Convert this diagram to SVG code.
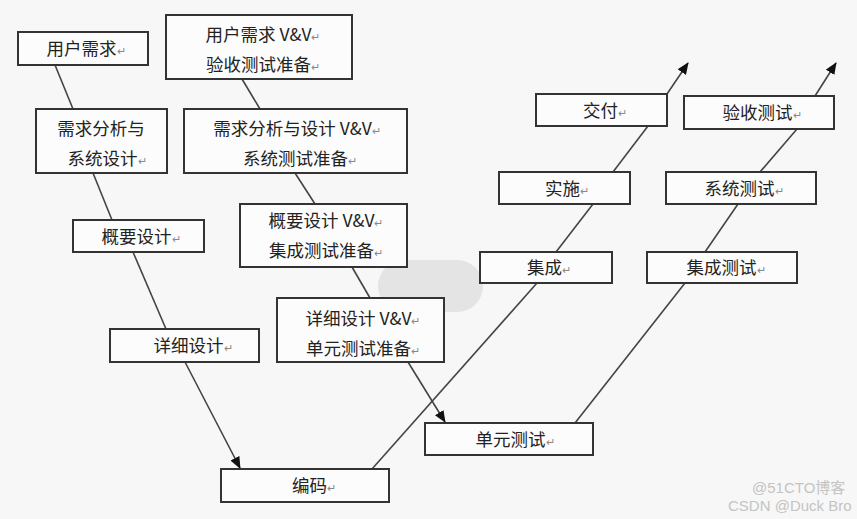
<svg xmlns="http://www.w3.org/2000/svg" width="857" height="519" viewBox="0 0 857 519">
<style>
.bx{fill:#fcfcfc;stroke:#333;stroke-width:2}
.t{font-family:"Noto Sans CJK SC","Noto Sans",sans-serif;font-size:17.5px;fill:#222;text-anchor:middle}
.r{font-size:11px;fill:#888}
.ln{stroke:#444;stroke-width:1.6;fill:none}
.wm{font-family:"Liberation Sans","Noto Sans CJK SC",sans-serif;font-size:15px;fill:#c4c4c4}
</style>
<defs>
<marker id="ah" viewBox="0 0 12 10" refX="11" refY="5" markerWidth="12" markerHeight="10" markerUnits="userSpaceOnUse" orient="auto">
<path d="M0,0 L12,5 L0,10 z" fill="#111"/>
</marker>
</defs>
<rect width="857" height="519" fill="#f7f7f7"/>
<rect x="378" y="260" width="105" height="52" rx="26" fill="#e4e4e4"/>
<g id="connectors">
<line class="ln" x1="55" y1="65" x2="73" y2="109"/>
<line class="ln" x1="93" y1="173" x2="112" y2="220"/>
<line class="ln" x1="133" y1="252" x2="166" y2="329"/>
<line class="ln" x1="185" y1="362" x2="240" y2="468" marker-end="url(#ah)"/>
<line class="ln" x1="242" y1="79" x2="260" y2="109"/>
<line class="ln" x1="295" y1="173" x2="315" y2="204"/>
<line class="ln" x1="352" y1="267" x2="370" y2="298"/>
<line class="ln" x1="408" y1="362" x2="445" y2="422" marker-end="url(#ah)"/>
<line class="ln" x1="372" y1="469" x2="537" y2="283"/>
<line class="ln" x1="556" y1="252" x2="593" y2="204"/>
<line class="ln" x1="613" y1="172" x2="648" y2="126"/>
<line class="ln" x1="667" y1="94" x2="688" y2="63" marker-end="url(#ah)"/>
<line class="ln" x1="575" y1="423" x2="685" y2="283"/>
<line class="ln" x1="705" y1="252" x2="738" y2="204"/>
<line class="ln" x1="760" y1="172" x2="797" y2="129"/>
<line class="ln" x1="815" y1="96" x2="836" y2="63" marker-end="url(#ah)"/>
</g>
<g id="n-user-req"><rect class="bx" x="18" y="32" width="130" height="33"/><text class="t" x="86" y="55">用户需求<tspan class="r">↵</tspan></text></g>
<g id="n-req-analysis"><rect class="bx" x="36" y="109" width="131" height="64"/><text class="t" x="101" y="135">需求分析与</text><text class="t" x="107" y="165">系统设计<tspan class="r">↵</tspan></text></g>
<g id="n-outline"><rect class="bx" x="73" y="220" width="131" height="32"/><text class="t" x="141" y="243">概要设计<tspan class="r">↵</tspan></text></g>
<g id="n-detail"><rect class="bx" x="110" y="329" width="149" height="33"/><text class="t" x="193" y="352">详细设计<tspan class="r">↵</tspan></text></g>
<g id="n-code"><rect class="bx" x="221" y="469" width="168" height="33"/><text class="t" x="314" y="492">编码<tspan class="r">↵</tspan></text></g>
<g id="n-vv-acc"><rect class="bx" x="166" y="15" width="186" height="64"/><text class="t" x="263" y="41">用户需求 V&amp;V<tspan class="r">↵</tspan></text><text class="t" x="263" y="71">验收测试准备<tspan class="r">↵</tspan></text></g>
<g id="n-vv-sys"><rect class="bx" x="184" y="109" width="223" height="64"/><text class="t" x="297" y="135">需求分析与设计 V&amp;V<tspan class="r">↵</tspan></text><text class="t" x="300" y="165">系统测试准备<tspan class="r">↵</tspan></text></g>
<g id="n-vv-int"><rect class="bx" x="240" y="204" width="167" height="63"/><text class="t" x="326" y="227">概要设计 V&amp;V<tspan class="r">↵</tspan></text><text class="t" x="326" y="257">集成测试准备<tspan class="r">↵</tspan></text></g>
<g id="n-vv-unit"><rect class="bx" x="277" y="298" width="167" height="64"/><text class="t" x="363" y="325">详细设计 V&amp;V<tspan class="r">↵</tspan></text><text class="t" x="363" y="355">单元测试准备<tspan class="r">↵</tspan></text></g>
<g id="n-unit-test"><rect class="bx" x="425" y="423" width="168" height="32"/><text class="t" x="515" y="446">单元测试<tspan class="r">↵</tspan></text></g>
<g id="n-integrate"><rect class="bx" x="480" y="252" width="132" height="31"/><text class="t" x="549" y="274">集成<tspan class="r">↵</tspan></text></g>
<g id="n-int-test"><rect class="bx" x="647" y="252" width="150" height="31"/><text class="t" x="726" y="274">集成测试<tspan class="r">↵</tspan></text></g>
<g id="n-impl"><rect class="bx" x="499" y="172" width="131" height="32"/><text class="t" x="567" y="195">实施<tspan class="r">↵</tspan></text></g>
<g id="n-sys-test"><rect class="bx" x="666" y="172" width="150" height="32"/><text class="t" x="744" y="195">系统测试<tspan class="r">↵</tspan></text></g>
<g id="n-deliver"><rect class="bx" x="536" y="94" width="131" height="32"/><text class="t" x="605" y="117">交付<tspan class="r">↵</tspan></text></g>
<g id="n-acc-test"><rect class="bx" x="684" y="96" width="150" height="33"/><text class="t" x="762" y="119">验收测试<tspan class="r">↵</tspan></text></g>
<g id="watermark">
<text class="wm" x="752" y="493">@51CTO博客</text>
<text class="wm" x="728" y="511">CSDN @Duck Bro</text>
</g>
</svg>
